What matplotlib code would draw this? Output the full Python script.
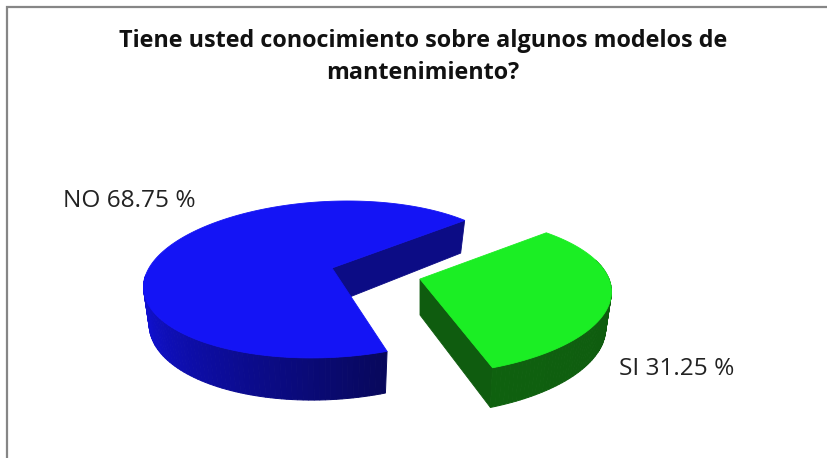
# -*- coding: utf-8 -*-
import numpy as np
import matplotlib
matplotlib.use("Agg")
import matplotlib.pyplot as plt

plt.rcParams["font.family"] = ["Open Sans", "DejaVu Sans"]

categories = ["NO", "SI"]
percents = [68.75, 31.25]
title_lines = ["Tiene usted conocimiento sobre algunos modelos de", "mantenimiento?"]

START_DEG = 43.0  # where the two slices meet on the far right
DEPTH = 36.0


def project(pie, deg, drop=0.0):
    # flat circle -> screen pixels, with a bit of perspective
    a = np.radians(deg)
    u, v = np.cos(a), np.sin(a)
    s = 1 + pie["k"] * v
    shrink = 1 - 0.03 * drop
    x = pie["cx"] + (pie["rx"] * u + pie["shear"] * pie["ry"] * v) / s * shrink
    y = pie["cy"] - pie["ry"] * v / s + drop * DEPTH / (1 + pie["k_d"] * v)
    return x, y


def draw_slice(ax, pie, a0, a1, cut_from, wall_from, z):
    # cut face first, then rim strips, then the top goes over them
    cx, cy = pie["cx"], pie["cy"]
    x0, y0 = project(pie, cut_from)
    x1, y1 = project(pie, cut_from, drop=1)
    ax.fill([cx, x0, x1, cx], [cy, y0, y1, cy + DEPTH], color=pie["cut"], lw=0.6, zorder=z)

    angles = np.linspace(wall_from, a1, 70)
    c0, c1 = np.array(pie["wall"][0]), np.array(pie["wall"][1])
    for i in range(len(angles) - 1):
        t = i / (len(angles) - 2)
        col = c0 * (1 - t) + c1 * t
        pair = np.array([angles[i], angles[i + 1]])
        xa, ya = project(pie, pair)
        xb, yb = project(pie, pair[::-1], drop=1)
        ax.fill(np.r_[xa, xb], np.r_[ya, yb], color=col, lw=0.7, zorder=z + 1)

    arc = np.linspace(a0, a1, 200)
    xs, ys = project(pie, arc)
    ax.fill(np.r_[cx, xs], np.r_[cy, ys], color=pie["top"], lw=0.6, zorder=z + 2)


fig = plt.figure(figsize=(8.28, 4.58), dpi=100)
ax = fig.add_axes([0, 0, 1, 1])
ax.set_xlim(0, 828)
ax.set_ylim(458, 0)
ax.axis("off")

# chart frame, cropped at the right and bottom
ax.plot([7, 7, 828], [458, 7, 7], color="#868686", lw=1.6, zorder=1, solid_joinstyle="miter")

blue_sweep = percents[0] / 100 * 360
green_sweep = percents[1] / 100 * 360

blue = dict(cx=332, cy=268, rx=183, ry=76.8, k=0.146, k_d=0.146, shear=0.23, top="#1414F5", cut="#0C0C85",
            wall=[(0.07, 0.07, 0.90), (0.03, 0.03, 0.36)])
green = dict(cx=420, cy=279, rx=189, ry=77, k=0.2, k_d=0.1, shear=0.1, top="#1BEE24", cut="#0F5C0F",
             wall=[(0.055, 0.35, 0.055), (0.06, 0.38, 0.06)])

draw_slice(ax, blue, START_DEG, START_DEG + blue_sweep, START_DEG, 185, 3)
draw_slice(ax, green, START_DEG, START_DEG - green_sweep, START_DEG - green_sweep, 15, 7)

ax.text(423, 41, title_lines[0], ha="center", va="center", fontsize=16.8, fontweight="bold", color="#111111")
ax.text(423, 73, title_lines[1], ha="center", va="center", fontsize=16.8, fontweight="bold", color="#111111")

ax.text(63, 201, f"{categories[0]} {percents[0]} %", ha="left", va="center", fontsize=17.6, color="#222222")
ax.text(619, 369, f"{categories[1]} {percents[1]} %", ha="left", va="center", fontsize=17.6, color="#222222")

fig.savefig("out.png", dpi=100)
